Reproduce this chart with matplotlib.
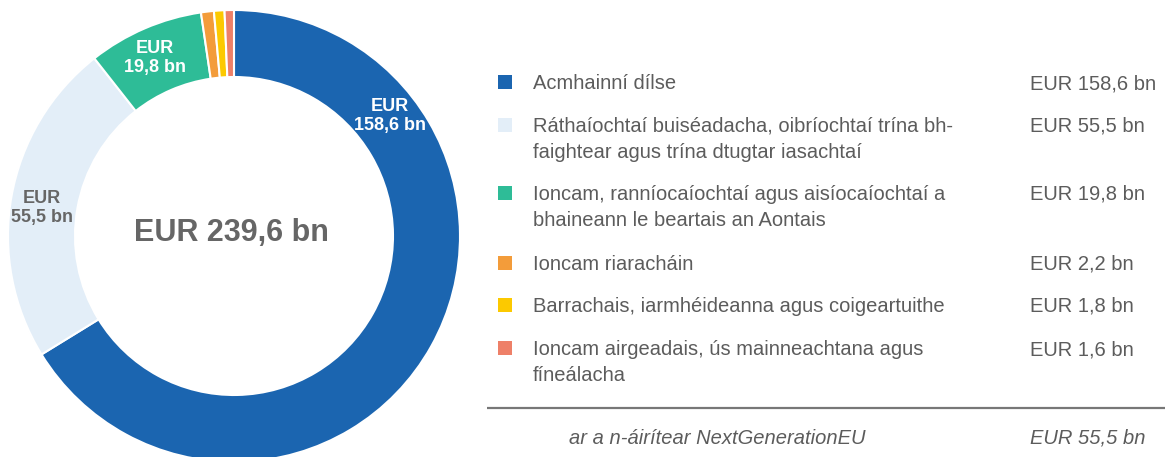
import matplotlib.pyplot as plt
from matplotlib.patches import Rectangle

# data
labels = [
    'Acmhainní dílse',
    'Ráthaíochtaí buiséadacha, oibríochtaí trína bh-\nfaightear agus trína dtugtar iasachtaí',
    'Ioncam, ranníocaíochtaí agus aisíocaíochtaí a\nbhaineann le beartais an Aontais',
    'Ioncam riaracháin',
    'Barrachais, iarmhéideanna agus coigeartuithe',
    'Ioncam airgeadais, ús mainneachtana agus\nfíneálacha',
]
values = [158.6, 55.5, 19.8, 2.2, 1.8, 1.6]
colors = ['#1b65b0', '#e3eef8', '#2ebc97', '#f39c3a', '#fcc900', '#ee8068']
total_label = 'EUR 239,6 bn'
footer_label = 'ar a n-áirítear NextGenerationEU'
footer_value = 55.5


def fmt(v):
    return 'EUR {} bn'.format(('%.1f' % v).replace('.', ','))


W, H = 1165, 457
fig = plt.figure(figsize=(W / 100, H / 100), dpi=100)
ax = fig.add_axes([0, 0, 1, 1])
plt.rcParams['font.family'] = ['Liberation Sans', 'DejaVu Sans']
grey = '#5c5c5c'

# donut (pixel coords, y measured from bottom)
ax.pie(values, colors=colors, startangle=90, counterclock=False,
       radius=226, center=(234, H - 236),
       wedgeprops=dict(width=67, edgecolor='white', linewidth=1.5))
ax.set_xlim(0, W)
ax.set_ylim(0, H)
ax.set_aspect('auto')
ax.axis('off')

ax.text(231, H - 233, total_label, ha='center', va='center',
        fontsize=22, fontweight='bold', color='#666666')

# labels on wedges
wedge_lbl = [(0, 390, 116, 'white'), (2, 155, 58, 'white'), (1, 42, 208, '#666666')]
for i, x, y, c in wedge_lbl:
    ax.text(x, H - y, 'EUR\n' + fmt(values[i])[4:], ha='center', va='center',
            fontsize=13, fontweight='bold', color=c, linespacing=1.2)

# legend table
fs = 14.5
row_y = [82, 125, 193, 263, 305, 348]
line_gap = 25.8
for lab, v, c, y in zip(labels, values, colors, row_y):
    ax.add_patch(Rectangle((498, H - y - 7), 14, 14, color=c, lw=0))
    for k, line in enumerate(lab.split('\n')):
        ax.text(533, H - (y + k * line_gap) - 7, line, ha='left', va='baseline',
                fontsize=fs, color=grey)
    ax.text(1030, H - y - 7, fmt(v), ha='left', va='baseline',
            fontsize=fs, color=grey)

ax.plot([487, W], [H - 408, H - 408], color='#777777', lw=1.6, solid_capstyle='butt')
ax.text(569, H - 437 - 7, footer_label, ha='left', va='baseline',
        fontsize=fs, color=grey, style='italic')
ax.text(1030, H - 437 - 7, fmt(footer_value), ha='left', va='baseline',
        fontsize=fs, color=grey, style='italic')

fig.savefig('out.png', dpi=100)
